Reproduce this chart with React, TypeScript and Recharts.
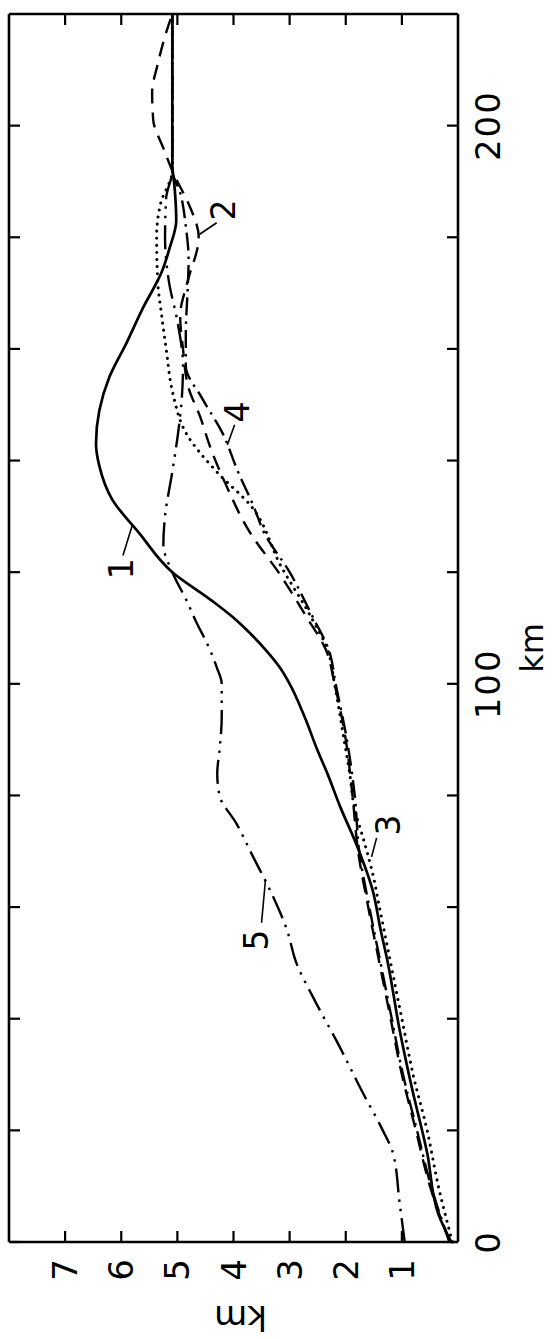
import { LineChart, Line, XAxis, YAxis, ReferenceLine, ReferenceDot, Label } from 'recharts'

// [distance km, height km]
const curve1: [number, number][] = [
  [0, 0.12], [5, 0.35], [16, 0.55], [28, 0.83], [38, 1.04], [50, 1.25], [56, 1.38],
  [63, 1.52], [71, 1.8], [78, 2.1], [84, 2.33], [88, 2.5], [94, 2.73], [100, 3.0],
  [103, 3.18], [106, 3.42], [109, 3.7], [112, 4.02], [115, 4.4], [120, 5.09], [127, 5.68],
  [133, 6.16], [139, 6.39], [143, 6.45], [149, 6.39], [155, 6.21], [161, 5.91], [167, 5.63],
  [174, 5.27], [178, 5.14], [183, 5.02], [189, 5.05], [193, 5.09], [200, 5.09], [220, 5.09],
]
const curve2: [number, number][] = [
  [0, 0.15], [10, 0.5], [20, 0.75], [30, 1.0], [40, 1.2], [50, 1.4], [60, 1.6], [70, 1.78],
  [80, 1.88], [90, 2.0], [100, 2.2], [106, 2.35], [112, 2.7], [120, 3.2], [127, 3.7],
  [136, 4.15], [142, 4.4], [148, 4.6], [153, 4.8], [160, 4.9], [166, 4.95], [172, 4.82],
  [180, 4.62], [186, 4.8], [191, 5.05], [196, 5.25], [201, 5.43], [206, 5.45], [211, 5.35],
  [216, 5.22], [220, 5.09],
]
const curve3: [number, number][] = [
  [0, 0.1], [10, 0.35], [20, 0.55], [30, 0.8], [40, 1.0], [50, 1.2], [60, 1.4], [66, 1.52],
  [72, 1.68], [78, 1.85], [84, 1.93], [90, 2.03], [100, 2.2], [106, 2.32], [112, 2.62],
  [121, 3.15], [132, 3.7], [138, 4.3], [145, 4.85], [152, 5.08], [160, 5.2], [166, 5.28],
  [172, 5.35], [180, 5.37], [186, 5.3], [192, 5.09], [220, 5.09],
]
const curve4: [number, number][] = [
  [0, 0.15], [10, 0.48], [20, 0.73], [30, 0.98], [40, 1.18], [50, 1.38], [60, 1.58], [70, 1.76],
  [80, 1.84], [90, 1.98], [100, 2.18], [106, 2.3], [112, 2.59], [120, 3.0], [127, 3.45],
  [132, 3.65], [138, 3.92], [145, 4.2], [151, 4.55], [157, 4.85], [163, 4.85], [170, 4.82],
  [176, 4.8], [182, 4.85], [188, 4.95], [192, 5.09], [220, 5.09],
]
const curve5: [number, number][] = [
  [0, 0.95], [7, 1.04], [16, 1.16], [20, 1.34], [27, 1.71], [35, 2.11], [44, 2.59], [50, 2.88],
  [56, 3.05], [62, 3.3], [69, 3.65], [75, 3.95], [80, 4.25], [84, 4.29], [88, 4.25], [94, 4.21],
  [100, 4.21], [103, 4.3], [107, 4.46], [111, 4.66], [115, 4.84], [120, 5.09], [125, 5.25],
  [130, 5.22], [138, 5.09], [144, 5.0], [150, 4.93], [157, 4.9], [165, 5.0], [172, 5.15],
  [180, 5.22], [187, 5.2], [192, 5.09], [220, 5.09],
]

const xTicks = [0, 20, 40, 60, 80, 100, 120, 140, 160, 180, 200]
const xLabels = [0, 100, 200]
const yTicks = [1, 2, 3, 4, 5, 6, 7]

// curve numbers with their leader lines
const tags = [
  { text: '1', d: 120.6, v: 6.0, from: [123, 5.97], to: [128.5, 5.8] },
  { text: '2', d: 184.9, v: 4.18, from: [182.6, 4.3], to: [180.5, 4.61] },
  { text: '3', d: 74.7, v: 1.25, from: [72.4, 1.45], to: [69, 1.54] },
  { text: '4', d: 148.7, v: 3.93, from: [146.4, 3.98], to: [142.8, 4.11] },
  { text: '5', d: 54.1, v: 3.59, from: [57.2, 3.5], to: [64.9, 3.43] },
]

const toPoints = (c: [number, number][]) => c.map(([d, v]) => ({ d, v }))

const W = 1339
const H = 556
const M = { top: 9, right: 14, bottom: 38, left: 37 }
const PLOT_TOP = M.top
const PLOT_RIGHT = W - M.right
const TICK = 11
const FONT = 'DejaVu Sans, sans-serif'

function XTick({ x, y, payload }: any) {
  return (
    <g>
      <line x1={x} x2={x} y1={y} y2={y - TICK} stroke="#000" strokeWidth={2.2} />
      <line x1={x} x2={x} y1={PLOT_TOP} y2={PLOT_TOP + TICK} stroke="#000" strokeWidth={2.2} />
      {xLabels.includes(payload.value) && (
        <text x={x} y={y + 30} textAnchor="middle" dominantBaseline="central"
          fontSize={34} letterSpacing={2} fontFamily={FONT} fill="#000">{payload.value}</text>
      )}
    </g>
  )
}

function YTick({ x, y, payload }: any) {
  return (
    <g>
      <line x1={x} x2={x + TICK} y1={y} y2={y} stroke="#000" strokeWidth={2.2} />
      <line x1={PLOT_RIGHT} x2={PLOT_RIGHT - TICK} y1={y} y2={y} stroke="#000" strokeWidth={2.2} />
      <text x={x - 28} y={y} textAnchor="middle" dominantBaseline="central"
        fontSize={34} fontFamily={FONT} fill="#000">{payload.value}</text>
    </g>
  )
}

function YTitle({ viewBox }: any) {
  const cx = viewBox.x - 16
  const cy = viewBox.y + viewBox.height / 2 + 7
  return (
    <text x={cx} y={cy} transform={`rotate(-90 ${cx} ${cy})`} textAnchor="middle"
      dominantBaseline="central" fontSize={34} fontFamily={FONT} fill="#000">km</text>
  )
}

function XTitle({ viewBox }: any) {
  const cx = viewBox.x + viewBox.width / 2 - 20
  const cy = viewBox.y + 74
  return (
    <text x={cx} y={cy} textAnchor="middle" dominantBaseline="central"
      fontSize={32} fontFamily={FONT} fill="#000">km</text>
  )
}

export default function App() {
  const lineProps = {
    dataKey: 'v',
    stroke: '#000',
    dot: false,
    activeDot: false,
    isAnimationActive: false,
    type: 'monotone' as const,
  }

  return (
    <div style={{ position: 'absolute', left: 0, top: 0, width: H, height: W, overflow: 'hidden', background: '#fff' }}>
      <div
        style={{
          position: 'absolute', left: 0, top: 0, width: W, height: H,
          transform: `translate(0px, ${W}px) rotate(-90deg)`, transformOrigin: '0 0',
        }}
      >
        <LineChart width={W} height={H} margin={M}>
          <XAxis
            type="number" dataKey="d" domain={[0, 220]} ticks={xTicks} interval={0}
            height={60} tickSize={0} tickMargin={0} tick={<XTick />}
            axisLine={{ stroke: '#000', strokeWidth: 2.6 }}
          >
            <Label content={<XTitle />} />
          </XAxis>
          <YAxis
            type="number" domain={[0, 8]} ticks={yTicks} interval={0}
            width={60} tickSize={0} tickMargin={0} tick={<YTick />}
            axisLine={{ stroke: '#000', strokeWidth: 2.6 }}
          >
            <Label content={<YTitle />} />
          </YAxis>
          <ReferenceLine y={8} stroke="#000" strokeWidth={2.6} />
          <ReferenceLine x={220} stroke="#000" strokeWidth={2.6} />

          <Line {...lineProps} data={toPoints(curve5)} strokeWidth={2.4} strokeDasharray="24 7 2.5 7 2.5 7" />
          <Line {...lineProps} data={toPoints(curve4)} strokeWidth={2.4} strokeDasharray="18 6 2.5 6" />
          <Line {...lineProps} data={toPoints(curve3)} strokeWidth={3} strokeLinecap="round" strokeDasharray="0.1 7" />
          <Line {...lineProps} data={toPoints(curve2)} strokeWidth={2.4} strokeDasharray="15 9" />
          <Line {...lineProps} data={toPoints(curve1)} strokeWidth={2.7} />

          {tags.map((t) => (
            <ReferenceLine
              key={'l' + t.text}
              segment={[{ x: t.from[0], y: t.from[1] }, { x: t.to[0], y: t.to[1] }]}
              stroke="#000" strokeWidth={1.6}
            />
          ))}
          {tags.map((t) => (
            <ReferenceDot
              key={'t' + t.text} x={t.d} y={t.v} r={1} fill="none" stroke="none"
              label={{ value: t.text, position: 'center', fontSize: 33, fontFamily: FONT, fill: '#000' }}
            />
          ))}
        </LineChart>
      </div>
    </div>
  )
}
